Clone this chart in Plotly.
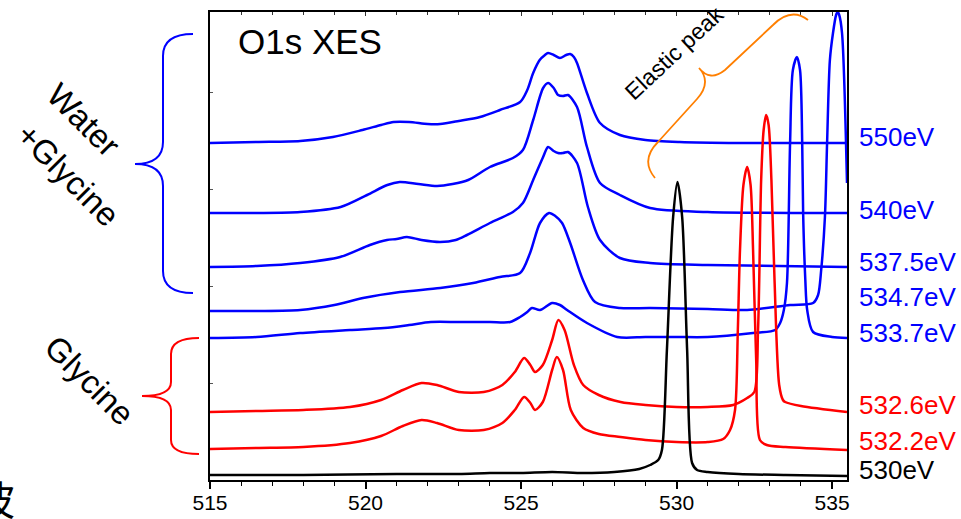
import plotly.graph_objects as go

# ---- O1s XES spectra: emission energy (eV) vs stacked intensity (arb. units) ----
e_550 = [515.0, 516.5, 517.9, 518.95, 519.9, 520.5, 520.9, 521.4, 522.0, 522.4, 523.0,
         523.68, 524.32, 524.97, 525.2, 525.39, 525.6, 525.77, 525.87, 526.05, 526.25,
         526.45, 526.58, 526.7, 526.8, 527.12, 527.54, 528.18, 529.0, 530.1, 532.0, 535.48]
i_550 = [337, 338, 339, 343, 350, 355, 358, 358, 356, 356, 359,
         363, 370, 378, 390, 407, 420, 425, 427, 425, 422,
         425, 426, 423, 417, 387, 357, 345, 340, 338, 337, 337]

e_540 = [515.0, 516.5, 517.9, 519.2, 520.05, 520.7, 521.1, 521.7, 522.3, 522.8, 523.3,
         524.0, 524.74, 525.06, 525.39, 525.71, 525.87, 526.05, 526.19, 526.35, 526.51,
         526.8, 527.12, 527.54, 528.18, 529.15, 531.0, 535.48]
i_540 = [267, 267, 268, 273, 285, 295, 298, 296, 294, 296, 300,
         313, 322, 330, 360, 392, 397, 392, 385, 384, 385,
         373, 333, 297, 285, 272, 268, 267]

e_5375 = [515.0, 516.5, 517.9, 519.18, 520.14, 520.69, 521.0, 521.33, 521.8, 522.4, 522.9,
          523.26, 524.0, 524.74, 525.06, 525.39, 525.71, 525.87, 526.05, 526.19, 526.35,
          526.51, 526.8, 527.15, 527.54, 528.18, 529.15, 531.0, 535.48]
i_5375 = [213, 214, 217, 223, 235, 240, 241, 243, 240, 238, 240,
          245, 257, 268, 277, 300, 323, 333, 329, 327, 327,
          328, 317, 273, 240, 222, 217, 215, 213]

e_5347 = [515.0, 516.5, 517.9, 519.0, 519.92, 521.11, 522.4, 523.46, 524.32, 524.97, 525.29,
          525.61, 525.9, 526.1, 526.32, 526.58, 526.99, 527.38, 528.18, 529.15, 531.0,
          532.27, 533.65, 534.39, 534.55, 534.65, 534.77, 534.84, 534.93, 535.03, 535.13,
          535.18, 535.23, 535.32, 535.48]
i_5347 = [169, 169, 170, 175, 182, 188, 192, 197, 203, 207, 227,
          257, 267, 264, 257, 237, 200, 178, 172, 172, 171,
          170, 175, 177, 185, 210, 263, 337, 420, 447, 465,
          468, 465, 447, 297]

e_5337 = [515.0, 516.5, 517.9, 519.5, 520.6, 521.4, 522.1, 523.0, 524.0, 524.65, 524.97, 525.2,
          525.35, 525.61, 526.0, 526.25, 526.48, 527.12, 528.09, 529.0, 530.0, 531.0,
          532.46, 533.17, 533.33, 533.45, 533.55, 533.65, 533.74, 533.87, 533.97, 534.04,
          534.07, 534.14, 534.2, 534.39, 535.0, 535.48]
i_5337 = [142, 143, 147, 150, 152, 155, 158, 158, 158, 158, 163, 168,
          172, 170, 177, 175, 170, 157, 143, 143, 143, 143,
          147, 150, 157, 170, 197, 337, 410, 423, 410, 337,
          267, 200, 170, 148, 143, 142]

e_5326 = [515.0, 516.5, 518.0, 519.5, 520.5, 521.2, 521.8, 522.3, 523.0, 523.8, 524.4,
          524.8, 525.1, 525.3, 525.45, 525.7, 526.0, 526.2, 526.4, 526.7, 527.0,
          527.5, 528.2, 529.0, 530.0, 531.0, 531.82, 532.27, 532.5, 532.62, 532.72,
          532.8, 532.88, 532.96, 533.05, 533.15, 533.3, 533.42, 533.49, 534.0, 535.48]
i_5326 = [68, 69, 70, 73, 80, 90, 97, 95, 88, 88, 95,
          108, 122, 115, 108, 115, 140, 160, 150, 115, 95,
          85, 78, 75, 73, 73, 75, 82, 88, 150, 300,
          350, 365, 355, 300, 200, 95, 80, 78, 74, 68]

e_5322 = [515.0, 516.5, 518.0, 519.5, 520.5, 521.2, 521.8, 522.3, 523.0, 523.8, 524.4,
          524.8, 525.1, 525.3, 525.45, 525.7, 526.0, 526.15, 526.35, 526.6, 527.0,
          527.5, 528.2, 529.0, 530.0, 531.0, 531.5, 531.72, 531.88, 531.97, 532.04,
          532.15, 532.27, 532.38, 532.46, 532.56, 532.68, 532.9, 533.5, 535.48]
i_5322 = [31, 32, 33, 37, 44, 54, 60, 57, 50, 50, 57,
          70, 83, 77, 70, 78, 110, 123, 110, 70, 52,
          46, 43, 40, 38, 38, 41, 50, 70, 150, 230,
          295, 313, 295, 230, 120, 40, 35, 33, 30]

e_530 = [515.0, 518.0, 521.0, 523.0, 524.0, 525.0, 526.0, 527.0, 528.0, 528.8, 529.15,
         529.41, 529.53, 529.69, 529.89, 530.03, 530.18, 530.34, 530.5, 530.66, 531.0,
         532.0, 533.5, 535.48]
i_530 = [5, 5, 6, 6, 7, 7, 8, 7, 8, 11, 15,
         20, 30, 130, 263, 298, 263, 130, 17, 10, 8,
         6, 5, 4]

series = [
    ("550eV", e_550, i_550, "#0000ff", 137),
    ("540eV", e_540, i_540, "#0000ff", 210),
    ("537.5eV", e_5375, i_5375, "#0000ff", 262),
    ("534.7eV", e_5347, i_5347, "#0000ff", 297),
    ("533.7eV", e_5337, i_5337, "#0000ff", 333),
    ("532.6eV", e_5326, i_5326, "#ff0000", 405),
    ("532.2eV", e_5322, i_5322, "#ff0000", 441),
    ("530eV", e_530, i_530, "#000000", 470),
]

X_RANGE = [515, 535.48]
Y_RANGE = [0, 468]
X_TICKS = [515, 520, 525, 530, 535]

# page geometry (pixels) of the plotting area
W, H = 961, 519
PL, PR, PT, PB = 210, 847, 12, 480
FONT = "Arial, Liberation Sans, sans-serif"


def fx(x):
    return (x - PL) / (PR - PL)


def fy(y):
    return (PB - y) / (PB - PT)


def path(points_cmds):
    out = []
    for cmd, *pts in points_cmds:
        coords = " ".join(f"{fx(x):.5f},{fy(y):.5f}" for x, y in pts)
        out.append(f"{cmd} {coords}".strip())
    return " ".join(out)


fig = go.Figure()
for name, e, i, color, _ in series:
    fig.add_trace(go.Scatter(
        x=e, y=i, mode="lines", name=name,
        line=dict(color=color, width=2.5, shape="spline", smoothing=0.8),
        hoverinfo="skip",
    ))

# mirrored top axis carrying inward minor ticks
fig.add_trace(go.Scatter(x=[X_RANGE[0]], y=[0], xaxis="x2", mode="markers",
                         marker=dict(opacity=0), showlegend=False, hoverinfo="skip"))

annotations = []
for name, _, _, color, ylab in series:
    annotations.append(dict(
        text=name, x=fx(857), y=fy(ylab), xref="paper", yref="paper",
        xanchor="left", yanchor="middle", showarrow=False,
        font=dict(family=FONT, size=26, color=color),
    ))

annotations += [
    dict(text="O1s XES", x=fx(236), y=fy(41), xref="paper", yref="paper",
         xanchor="left", yanchor="middle", showarrow=False,
         font=dict(family=FONT, size=35, color="black")),
    dict(text="Elastic peak", x=fx(674), y=fy(53), xref="paper", yref="paper",
         xanchor="center", yanchor="middle", showarrow=False, textangle=-43,
         font=dict(family=FONT, size=23, color="black")),
    dict(text="Water", x=fx(83), y=fy(120), xref="paper", yref="paper",
         xanchor="center", yanchor="middle", showarrow=False, textangle=45,
         font=dict(family=FONT, size=33, color="black")),
    dict(text="+Glycine", x=fx(68), y=fy(174), xref="paper", yref="paper",
         xanchor="center", yanchor="middle", showarrow=False, textangle=45,
         font=dict(family=FONT, size=33, color="black")),
    dict(text="Glycine", x=fx(90), y=fy(380), xref="paper", yref="paper",
         xanchor="center", yanchor="middle", showarrow=False, textangle=45,
         font=dict(family=FONT, size=33, color="black")),
    dict(text="波", x=fx(17), y=fy(498), xref="paper", yref="paper",
         xanchor="right", yanchor="middle", showarrow=False,
         font=dict(family="Noto Sans CJK SC", size=40, color="black")),
]

shapes = [
    # brace grouping the water + glycine spectra
    dict(type="path", xref="paper", yref="paper", line=dict(color="#0000ff", width=2),
         path=path([("M", (193, 34)), ("Q", (163, 34), (163, 56)), ("L", (163, 142)),
                    ("Q", (163, 164), (135, 164)), ("Q", (163, 164), (163, 186)),
                    ("L", (163, 271)), ("Q", (163, 293), (193, 293))])),
    # brace grouping the glycine spectra
    dict(type="path", xref="paper", yref="paper", line=dict(color="#ff0000", width=2),
         path=path([("M", (199, 338)), ("Q", (171, 338), (171, 354)), ("L", (171, 382)),
                    ("Q", (171, 396), (142, 396)), ("Q", (171, 396), (171, 410)),
                    ("L", (171, 440)), ("Q", (171, 454), (199, 454))])),
    # brace over the elastic peaks
    dict(type="path", xref="paper", yref="paper", line=dict(color="#ff7f00", width=1.8),
         path=path([("M", (655, 178)), ("Q", (640, 160), (658, 142)), ("L", (697, 99)),
                    ("Q", (712, 82), (699, 68)), ("Q", (710, 82), (725, 70)),
                    ("L", (773, 25)), ("Q", (791, 7), (808, 20))])),
]

fig.update_layout(
    width=W, height=H,
    margin=dict(l=PL, r=W - PR, t=PT, b=H - PB, autoexpand=False),
    paper_bgcolor="white", plot_bgcolor="white",
    showlegend=False,
    annotations=annotations,
    shapes=shapes,
    xaxis=dict(
        range=X_RANGE, tickvals=X_TICKS, ticktext=[str(t) for t in X_TICKS],
        ticks="outside", ticklen=7, tickwidth=1.5, tickcolor="black",
        ticklabelstandoff=-4,
        minor=dict(dtick=1, ticks="outside", ticklen=4, tickwidth=1.2, tickcolor="black"),
        showline=True, linecolor="black", linewidth=2, mirror=True,
        showgrid=False, zeroline=False, automargin=False,
        tickfont=dict(family=FONT, size=21, color="black"),
    ),
    xaxis2=dict(
        range=X_RANGE, overlaying="x", side="top", anchor="y",
        tickvals=X_TICKS, showticklabels=False, automargin=False,
        ticks="inside", ticklen=4, tickwidth=1, tickcolor="#333333",
        minor=dict(dtick=1, ticks="inside", ticklen=3, tickwidth=1, tickcolor="#333333"),
        showline=False, showgrid=False, zeroline=False,
    ),
    yaxis=dict(
        range=Y_RANGE, showticklabels=False, automargin=False,
        ticks="inside", ticklen=3, tickwidth=1, tickcolor="#555555", dtick=97,
        showline=True, linecolor="black", linewidth=2, mirror=True,
        showgrid=False, zeroline=False,
    ),
)

fig.write_html("out.html")
